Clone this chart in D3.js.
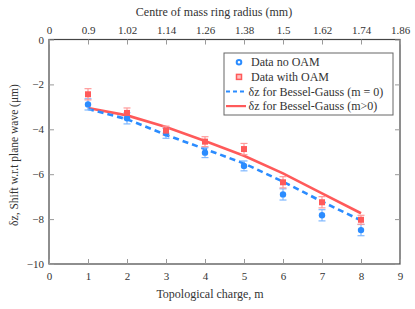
<!DOCTYPE html>
<html>
<head>
<meta charset="utf-8">
<script src="https://cdn.jsdelivr.net/npm/d3@7"></script>
<style>
  body { margin: 0; background: #fff; }
</style>
</head>
<body>
<div id="chart"></div>
<script>
// topological charge m
const charges = [1, 2, 3, 4, 5, 6, 7, 8];
// measured shift, no OAM
const noOam = [-2.89, -3.51, -4.18, -5.04, -5.63, -6.90, -7.83, -8.49];
const noOamErr = [0.25, 0.25, 0.22, 0.22, 0.22, 0.25, 0.25, 0.25];
// measured shift, with OAM
const withOam = [-2.44, -3.27, -4.06, -4.55, -4.88, -6.36, -7.25, -8.03];
const withOamErr = [0.25, 0.22, 0.2, 0.22, 0.25, 0.25, 0.25, 0.2];
// Bessel-Gauss predictions
const bgM0 = [-3.1, -3.55, -4.25, -4.88, -5.52, -6.33, -7.22, -8.06];
const bgM = [-3.05, -3.38, -3.9, -4.52, -5.18, -5.96, -6.85, -7.74];

const bottomTicks = [0, 1, 2, 3, 4, 5, 6, 7, 8, 9];
const topTickLabels = ["0", "0.9", "1.02", "1.14", "1.26", "1.38", "1.5", "1.62", "1.74", "1.86"];
const yTicks = [0, -2, -4, -6, -8, -10];

const W = 415, H = 309;
const FONT = '"Liberation Serif", "Times New Roman", serif';
const margin = {top: 39.5, right: 15, bottom: 45, left: 49};
const width = 400 - margin.left,
    height = 264 - margin.top;

const blue = "#2b8cff", red = "#ff5a5a";
const blueLight = "#7fb8ff", redLight = "#ff9a9a";

const root = d3.select("#chart")
    .append("svg")
    .attr("width", W).attr("height", H)
    .attr("font-family", FONT);

const svg = root.append("g")
    .attr("transform", `translate(${margin.left},${margin.top})`);

const x = d3.scaleLinear().domain([0, 9]).range([0, width]);
const y = d3.scaleLinear().domain([-10, 0]).range([height, 0]);

// frame
svg.append("rect")
    .attr("width", width).attr("height", height)
    .attr("fill", "none").attr("stroke", "#444").attr("stroke-width", 1.2);

// bottom axis
const xAxis = svg.append("g")
    .attr("transform", `translate(0,${height})`)
    .call(d3.axisBottom(x).tickValues(bottomTicks).tickFormat(d3.format("d")).tickSizeInner(-5).tickSizeOuter(0).tickPadding(8));
// top axis
const xTop = svg.append("g")
    .call(d3.axisTop(x).tickValues(bottomTicks).tickFormat((d, i) => topTickLabels[i]).tickSizeInner(-5).tickSizeOuter(0).tickPadding(6));
// left axis
const yAxis = svg.append("g")
    .call(d3.axisLeft(y).tickValues(yTicks).tickFormat(d3.format("d")).tickSizeInner(-5).tickSizeOuter(0).tickPadding(5));
// right axis (ticks only)
const yRight = svg.append("g")
    .attr("transform", `translate(${width},0)`)
    .call(d3.axisRight(y).tickValues(yTicks).tickFormat("").tickSizeInner(-5).tickSizeOuter(0));

[xAxis, xTop, yAxis, yRight].forEach(g => {
    g.attr("font-family", FONT).attr("font-size", "11px");
    g.select(".domain").remove();
    g.selectAll(".tick line").attr("stroke", "#999");
    g.selectAll(".tick text").attr("fill", "#333");
});

// axis titles
svg.append("text")
    .attr("x", 210 - margin.left).attr("y", height + 34)
    .attr("text-anchor", "middle")
    .attr("font-size", "12px").attr("fill", "#333")
    .text("Topological charge, m");
svg.append("text")
    .attr("x", 214 - margin.left).attr("y", -23.5)
    .attr("text-anchor", "middle")
    .attr("font-size", "12px").attr("fill", "#333")
    .text("Centre of mass ring radius (mm)");
svg.append("text")
    .attr("transform", `translate(${18 - margin.left},${155 - margin.top}) rotate(-90)`)
    .attr("text-anchor", "middle")
    .attr("font-size", "11.5px").attr("fill", "#333")
    .text("δz, Shift w.r.t plane wave (μm)");

// model lines
const line = d3.line()
    .x((d, i) => x(charges[i]))
    .y(d => y(d));

svg.append("path")
    .datum(bgM)
    .attr("fill", "none")
    .attr("stroke", red)
    .attr("stroke-width", 2.6)
    .attr("d", line);

svg.append("path")
    .datum(bgM0)
    .attr("fill", "none")
    .attr("stroke", blue)
    .attr("stroke-width", 2.6)
    .attr("stroke-dasharray", "6,4")
    .attr("d", line);

// error bars
function errorBars(vals, errs, color) {
    const g = svg.append("g").attr("stroke", color).attr("stroke-width", 1.2);
    vals.forEach((v, i) => {
        const cx = x(charges[i]);
        g.append("line").attr("x1", cx).attr("x2", cx).attr("y1", y(v - errs[i])).attr("y2", y(v + errs[i]));
        g.append("line").attr("x1", cx - 3.5).attr("x2", cx + 3.5).attr("y1", y(v - errs[i])).attr("y2", y(v - errs[i]));
        g.append("line").attr("x1", cx - 3.5).attr("x2", cx + 3.5).attr("y1", y(v + errs[i])).attr("y2", y(v + errs[i]));
    });
}
errorBars(noOam, noOamErr, blueLight);
errorBars(withOam, withOamErr, redLight);

// markers
svg.append("g").selectAll("circle")
    .data(noOam)
    .join("circle")
    .attr("cx", (d, i) => x(charges[i]))
    .attr("cy", d => y(d))
    .attr("r", 3.2)
    .attr("fill", blue);

svg.append("g").selectAll("rect")
    .data(withOam)
    .join("rect")
    .attr("x", (d, i) => x(charges[i]) - 3)
    .attr("y", d => y(d) - 3)
    .attr("width", 6).attr("height", 6)
    .attr("fill", red);

// legend
const lg = root.append("g").attr("transform", "translate(224,53)");
lg.append("rect")
    .attr("width", 169).attr("height", 62)
    .attr("fill", "#fff").attr("stroke", "#666").attr("stroke-width", 1);

const entries = [
    {label: "Data no OAM", kind: "circle"},
    {label: "Data with OAM", kind: "square"},
    {label: "δz for Bessel-Gauss (m = 0)", kind: "dash"},
    {label: "δz for Bessel-Gauss (m>0)", kind: "solid"}
];
entries.forEach((e, i) => {
    const ey = 9.3 + i * 14.6;
    if (e.kind === "circle") {
        lg.append("circle").attr("cx", 15).attr("cy", ey).attr("r", 2.3)
            .attr("fill", "#fff").attr("stroke", blue).attr("stroke-width", 2);
    } else if (e.kind === "square") {
        lg.append("rect").attr("x", 12.5).attr("y", ey - 2.5).attr("width", 5).attr("height", 5)
            .attr("fill", "#ffc0c0").attr("stroke", red).attr("stroke-width", 1.5);
    } else {
        lg.append("line").attr("x1", 2).attr("x2", 22).attr("y1", ey).attr("y2", ey)
            .attr("stroke", e.kind === "dash" ? blue : red)
            .attr("stroke-width", 2.2)
            .attr("stroke-dasharray", e.kind === "dash" ? "4,3" : null);
    }
    lg.append("text")
        .attr("x", e.kind === "circle" || e.kind === "square" ? 27 : 24.5)
        .attr("y", ey + 4)
        .attr("font-size", "12px").attr("fill", "#333")
        .text(e.label);
});
</script>
</body>
</html>
